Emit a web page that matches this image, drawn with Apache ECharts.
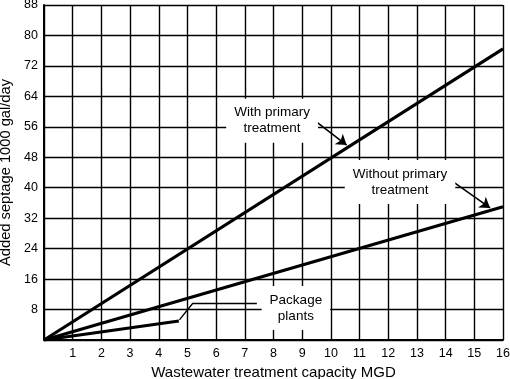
<!DOCTYPE html>
<html><head><meta charset="utf-8">
<script src="https://cdn.jsdelivr.net/npm/echarts@6/dist/echarts.min.js"></script>
<style>html,body{margin:0;padding:0;background:#fff}#c{width:510px;height:379px}</style>
</head><body><div id="c"></div>
<script>
const xTicks = [0,1,2,3,4,5,6,7,8,9,10,11,12,13,14,15,16];
const yTicks = [0,8,16,24,32,40,48,56,64,72,80,88];
const withPrimary = [[0,0],[16,76.5]];
const withoutPrimary = [[0,0],[16,35]];
const packagePlants = [[0,0],[4.7,5]];
const labels = [
  {name:'With primary\ntreatment', value:[7.95,57.6]},
  {name:'Without primary\ntreatment', value:[12.41,41.5]},
  {name:'Package\nplants', value:[8.78,8.4]}
];
const arrows = [
  [[9.27,58.6],[10.55,51.2]],
  [[14.08,42.5],[15.55,34.7]]
];
const leader = [[7.42,9.6],[5.18,9.6],[4.72,5.3]];

const font = 'Liberation Sans, Arial, sans-serif';
const chart = echarts.init(document.getElementById('c'));
const lineSeries = (d) => ({type:'line', data:d, symbol:'none', lineStyle:{color:'#000', width:3.2}, z:3, animation:false});
chart.setOption({
  animation:false,
  grid:{left:44, right:7, top:5, bottom:39, containLabel:false, outerBoundsMode:'none'},
  xAxis:{type:'value', min:0, max:16, interval:1,
    name:'Wastewater treatment capacity MGD', nameLocation:'middle', nameGap:25,
    nameTextStyle:{color:'#000', fontSize:15, fontFamily:font},
    axisLine:{lineStyle:{color:'#000', width:2}}, axisTick:{show:false},
    axisLabel:{color:'#000', fontSize:12.5, fontFamily:font, margin:7,
      formatter:v=> v===0 ? '' : String(v)},
    splitLine:{lineStyle:{color:'#000', width:1.4}}},
  yAxis:{type:'value', min:0, max:88, interval:8,
    name:'Added septage 1000 gal/day', nameLocation:'middle', nameGap:24,
    nameTextStyle:{color:'#000', fontSize:14.7, fontFamily:font},
    axisLine:{lineStyle:{color:'#000', width:2}}, axisTick:{show:false},
    axisLabel:{color:'#000', fontSize:12.5, fontFamily:font, margin:6,
      formatter:v=> v===0 ? '' : String(v)},
    splitLine:{lineStyle:{color:'#000', width:1.4}}},
  series:[
    lineSeries(withPrimary),
    lineSeries(withoutPrimary),
    lineSeries(packagePlants),
    {type:'lines', coordinateSystem:'cartesian2d', z:4,
      data: arrows.map(a=>({coords:a})),
      symbol:['none','arrow'], symbolSize:10,
      lineStyle:{color:'#000', width:1.6, opacity:1}},
    {type:'lines', coordinateSystem:'cartesian2d', polyline:true, z:4,
      data:[{coords:leader}],
      symbol:['none','arrow'], symbolSize:10,
      lineStyle:{color:'#000', width:1.4, opacity:1}},
    {type:'scatter', data:labels, symbolSize:0, z:5,
      itemStyle:{opacity:1},
      label:{show:true, position:'inside', formatter:p=>p.name,
        color:'#000', fontSize:13.5, fontFamily:font, lineHeight:16,
        backgroundColor:'#fff', padding:[6,8], opacity:1}}
  ]
});
</script></body></html>
